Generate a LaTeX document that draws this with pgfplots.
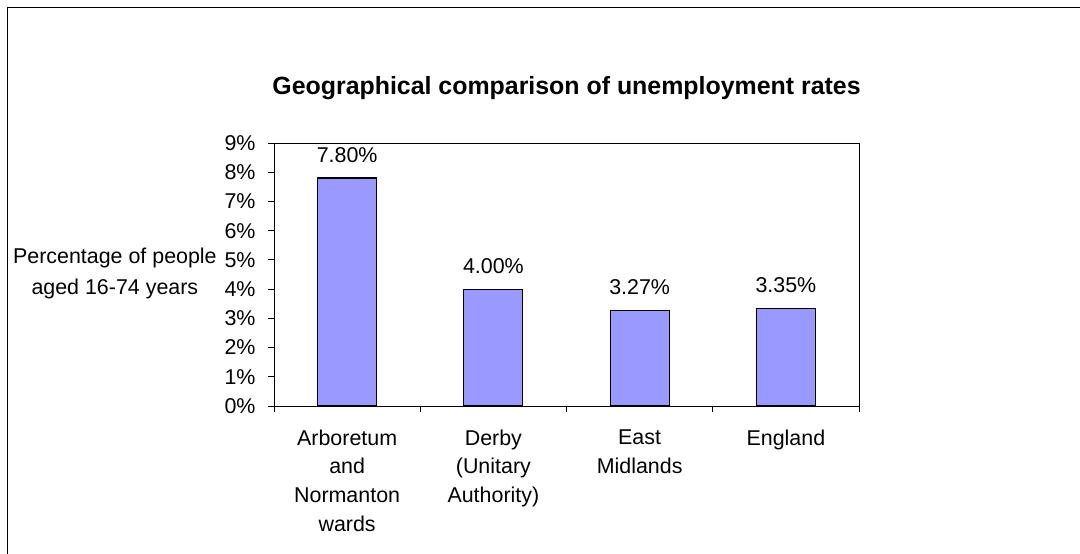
\documentclass[border=0pt]{standalone}
\usepackage{pgfplots}
\pgfplotsset{compat=1.18}
\usepackage{fontspec}
\setmainfont{Liberation Sans}
\definecolor{barfill}{HTML}{9999FF}
\begin{document}
\begin{tikzpicture}[x=1bp,y=1bp]
\path[use as bounding box] (0,0) rectangle (1080,554);
\draw[line width=1.2bp] (7.5,0) -- (7.5,546.5) -- (1080,546.5);
\begin{axis}[
  at={(274bp,148bp)}, anchor=south west,
  scale only axis, width=585bp, height=263bp,
  xmin=-0.5, xmax=3.5, ymin=0, ymax=9,
  axis line style={line width=0.8bp},
  ytick={0,1,...,9},
  yticklabel={\pgfmathprintnumber[fixed,precision=0]{\tick}\%},
  ytick pos=left, xtick pos=bottom, tick align=outside,
  major tick length=6bp,
  tick style={black, line width=0.8bp},
  xtick={-0.5,0.5,1.5,2.5,3.5},
  xticklabels={},
  extra x ticks={0,1,2,3},
  extra x tick labels={Arboretum\\and\\Normanton\\wards, Derby\\(Unitary\\Authority), East\\Midlands, England},
  extra x tick style={major tick length=0pt, xticklabel style={align=center, font=\fontsize{21.5}{29}\selectfont, yshift=-20bp}},
  yticklabel style={font=\fontsize{21.5}{25}\selectfont, xshift=-9bp},
  /pgf/number format/assume math mode=true,
  nodes near coords={\pgfmathprintnumber[fixed,fixed zerofill,precision=2]{\pgfplotspointmeta}\%},
  nodes near coords style={font=\fontsize{21.5}{25}\selectfont, anchor=base, inner sep=0pt, yshift=16bp},
  clip=false,
]
\addplot[ybar, bar width=59bp, fill=barfill, draw=black, line width=1.2bp] coordinates {(0,7.80) (1,4.00) (2,3.27) (3,3.35)};
\node[anchor=base, font=\bfseries\fontsize{25}{30}\selectfont] at (axis description cs:0.5,1.186) {Geographical comparison of unemployment rates};
\node[align=center, font=\fontsize{21.5}{31}\selectfont] at (axis description cs:-0.272,0.503) {Percentage of people\\aged 16-74 years};
\end{axis}
\end{tikzpicture}
\end{document}
